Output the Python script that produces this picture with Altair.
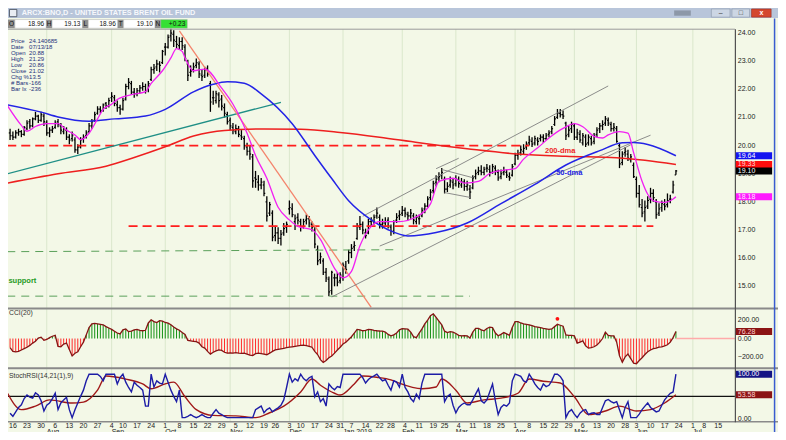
import altair as alt
import pandas as pd

W, H = 770, 424
SX, SY = W / 786, H / 440
def px(v): return round(v * SX, 2)
def py(v): return round(v * SY, 2)

FONT = "Liberation Sans"
BG = "#f3f8e7"
INK = "#000000"

# ---------------- trading calendar (x = trading-day number, 0 = 2018-07-16) ----------------
HOLIDAYS = ["2018-09-03", "2018-11-22", "2018-12-05", "2018-12-25", "2019-01-01",
            "2019-01-21", "2019-02-18", "2019-04-19", "2019-05-27", "2019-07-04"]
cal = pd.bdate_range("2018-07-12", "2019-07-23")
cal = cal[~cal.isin(pd.to_datetime(HOLIDAYS))]
POS0 = list(cal).index(pd.Timestamp("2018-07-16"))
cal_df = pd.DataFrame({"d": cal, "i": [k - POS0 for k in range(len(cal))]})
weeks = cal_df.groupby(cal_df["d"].dt.to_period("W")).first()
weeks = weeks[(weeks["i"] >= 0) & (weeks["i"] <= 252)]
week_df = pd.DataFrame({"i": weeks["i"].values, "t": [str(d.day) for d in weeks["d"]]})
months = cal_df.groupby(cal_df["d"].dt.to_period("M")).first()
months = months[months["i"] >= 0]
month_df = pd.DataFrame({"i": months["i"].values,
                         "t": [d.strftime("%b") + (" 2019" if d.month == 1 else "") for d in months["d"]]})

# ---------------- daily OHLC, trading days -1 (2018-07-13) .. 235 (2019-06-21) ----------------
BAR_I = list(range(-1, 236))
OPEN = [20.45,20.35,20.3,20.45,20.5,20.4,20.6,20.85,20.7,20.95,
        21.05,20.9,21.05,20.8,20.45,20.55,20.65,20.85,20.7,20.5,
        20.55,20.3,20.25,20.2,19.85,19.95,20.25,20.35,20.5,20.7,
        20.9,21.15,21.3,21.25,21.5,21.4,21.7,21.7,21.45,21.35,
        21.3,21.65,22.1,22.2,21.9,21.85,21.95,22.05,22.1,22.0,
        22.35,22.7,22.8,22.9,22.95,23.5,23.5,23.9,23.95,23.7,
        23.55,23.7,23.5,22.9,22.6,22.7,22.85,22.9,22.5,22.5,
        22.75,22.2,21.7,21.6,21.8,21.65,21.35,21.1,20.9,20.65,
        20.5,20.6,20.35,20.25,19.95,19.8,19.6,18.85,18.7,18.6,
        18.6,18.0,17.6,17.6,16.8,16.9,16.7,16.9,17.1,17.75,
        17.75,17.3,17.45,17.3,17.1,17.35,17.4,17.2,17.0,16.3,
        15.95,15.9,15.5,15.25,14.85,15.3,15.3,15.2,15.3,15.7,
        15.9,16.2,16.4,16.7,17.1,17.2,16.9,16.9,17.3,17.3,
        17.5,17.45,17.2,17.25,17.35,17.1,16.95,17.35,17.5,17.6,
        17.7,17.55,17.5,17.5,17.3,17.4,17.5,17.75,17.85,18.15,
        18.4,18.7,18.85,18.95,18.8,18.45,18.6,18.7,18.65,18.8,
        18.6,18.7,18.55,18.45,18.5,18.9,19.05,19.1,19.05,19.2,
        19.15,19.05,19.2,19.05,18.9,19.05,19.05,18.9,18.95,19.35,
        19.65,19.75,19.8,19.95,20.1,20.15,20.1,20.2,20.25,20.3,
        20.25,20.4,20.5,20.75,21.0,21.15,21.1,20.8,20.4,20.6,
        20.7,20.3,20.4,20.1,20.3,20.1,20.25,20.15,20.4,20.6,
        20.7,20.8,20.9,20.75,20.6,20.6,20.0,19.4,19.75,19.7,
        19.5,19.3,18.8,18.3,17.8,17.65,17.85,18.1,18.3,18.0,
        17.6,17.8,17.9,17.9,18.1,18.35,18.96]
HIGH = [20.6,20.5,20.55,20.6,20.55,20.7,20.9,20.95,21.0,21.2,
        21.1,21.2,21.15,20.9,20.65,20.7,20.9,20.95,20.8,20.7,
        20.65,20.4,20.5,20.3,20.05,20.3,20.4,20.55,20.8,20.95,
        21.2,21.4,21.4,21.5,21.55,21.7,21.9,21.8,21.6,21.45,
        21.7,22.2,22.4,22.3,22.05,22.05,22.15,22.25,22.2,22.3,
        22.8,22.9,23.05,23.0,23.4,23.65,23.95,24.15,24.1,23.9,
        23.85,23.85,23.6,23.05,22.85,22.95,23.1,23.0,22.7,22.8,
        22.85,22.3,21.95,21.95,21.9,21.8,21.5,21.2,21.0,20.8,
        20.75,20.7,20.55,20.35,20.1,20.0,19.7,19.1,18.95,18.85,
        18.75,18.2,18.0,17.7,17.15,17.1,17.0,17.25,17.3,18.05,
        17.95,17.55,17.6,17.4,17.4,17.55,17.5,17.3,17.1,16.45,
        16.2,16.0,15.65,15.35,15.55,15.45,15.5,15.5,15.85,15.9,
        16.3,16.5,16.6,17.25,17.5,17.3,17.05,17.4,17.45,17.55,
        17.8,17.55,17.4,17.45,17.45,17.2,17.35,17.6,17.7,17.85,
        17.8,17.65,17.75,17.6,17.55,17.55,17.8,17.95,18.2,18.45,
        18.75,18.95,19.05,19.2,18.9,18.7,18.9,18.85,18.95,18.9,
        18.85,18.8,18.75,18.6,18.95,19.15,19.25,19.3,19.25,19.35,
        19.3,19.35,19.3,19.15,19.15,19.25,19.15,19.05,19.35,19.75,
        19.85,20.0,20.05,20.15,20.35,20.3,20.35,20.3,20.4,20.4,
        20.45,20.55,20.7,21.05,21.3,21.3,21.25,20.85,20.7,20.85,
        20.8,20.6,20.55,20.45,20.4,20.4,20.35,20.45,20.65,20.8,
        20.9,21.05,21.0,20.85,20.8,20.7,20.1,19.8,19.95,19.85,
        19.7,19.4,18.9,18.6,18.1,18.05,18.2,18.5,18.45,18.1,
        17.95,18.05,18.1,18.3,18.25,18.75,19.13]
LOW = [20.2,20.2,20.25,20.35,20.3,20.35,20.55,20.6,20.65,20.9,
       20.8,20.85,20.7,20.35,20.3,20.45,20.6,20.65,20.4,20.4,
       20.2,20.05,20.15,19.75,19.7,19.9,20.1,20.25,20.45,20.6,
       20.85,21.1,21.15,21.2,21.3,21.35,21.55,21.4,21.2,21.1,
       21.25,21.6,22.0,21.8,21.7,21.75,21.85,21.95,21.85,21.9,
       22.3,22.55,22.65,22.6,22.9,23.2,23.45,23.7,23.5,23.45,
       23.4,23.4,23.0,22.3,22.45,22.6,22.75,22.4,22.3,22.4,
       22.45,21.2,21.45,21.5,21.35,21.25,21.0,20.75,20.55,20.4,
       20.4,20.3,20.2,19.85,19.65,19.5,18.5,18.5,18.4,18.45,
       18.2,17.3,17.5,16.6,16.6,16.5,16.45,16.8,16.9,17.55,
       17.45,17.0,17.2,16.95,17.05,17.2,17.1,16.95,16.35,15.75,
       15.8,15.4,15.15,14.65,14.7,15.0,15.0,15.1,15.2,15.45,
       15.8,16.0,16.25,16.65,17.0,16.85,16.7,16.85,17.15,17.2,
       17.4,17.05,17.05,17.15,17.05,16.8,16.85,17.25,17.35,17.5,
       17.45,17.35,17.4,17.2,17.2,17.2,17.45,17.6,17.8,18.05,
       18.3,18.55,18.7,18.8,18.3,18.35,18.5,18.45,18.55,18.5,
       18.5,18.4,18.4,18.1,18.45,18.8,18.95,18.95,18.95,19.05,
       18.9,19.0,18.95,18.75,18.8,18.95,18.85,18.75,18.9,19.3,
       19.5,19.65,19.7,19.85,20.0,19.95,20.0,20.0,20.15,20.1,
       20.2,20.3,20.4,20.7,20.95,21.0,20.95,20.2,20.3,20.45,
       20.2,20.2,20.1,20.0,19.95,20.0,20.0,20.05,20.3,20.45,
       20.55,20.7,20.7,20.5,20.5,20.1,19.2,19.3,19.6,19.45,
       19.4,18.85,18.15,17.8,17.45,17.3,17.75,17.95,18.0,17.4,
       17.5,17.65,17.7,17.8,17.95,18.3,18.96]
CLOSE = [20.35,20.3,20.45,20.5,20.4,20.65,20.8,20.7,20.95,21.05,
         20.9,21.1,20.85,20.45,20.55,20.6,20.8,20.75,20.55,20.6,
         20.3,20.2,20.35,19.85,19.95,20.2,20.3,20.45,20.7,20.85,
         21.1,21.3,21.25,21.45,21.4,21.6,21.75,21.5,21.35,21.3,
         21.6,22.1,22.25,21.9,21.85,21.95,22.05,22.1,21.95,22.2,
         22.7,22.75,22.9,22.85,23.35,23.5,23.85,24.0,23.75,23.6,
         23.7,23.55,23.1,22.5,22.65,22.8,22.95,22.55,22.45,22.7,
         22.55,21.55,21.7,21.85,21.6,21.4,21.15,20.85,20.7,20.55,
         20.6,20.4,20.3,20.0,19.8,19.7,18.75,18.8,18.6,18.7,
         18.3,17.5,17.9,16.75,16.9,16.7,16.85,17.05,17.2,17.8,
         17.55,17.4,17.35,17.1,17.3,17.4,17.25,17.1,16.5,15.9,
         16.05,15.5,15.3,14.8,15.5,15.3,15.15,15.4,15.75,15.6,
         16.2,16.35,16.45,17.15,17.2,17.0,16.8,17.3,17.35,17.45,
         17.6,17.2,17.25,17.3,17.15,16.95,17.3,17.45,17.55,17.7,
         17.6,17.5,17.6,17.35,17.45,17.4,17.7,17.85,18.1,18.35,
         18.65,18.8,18.9,19.05,18.45,18.55,18.75,18.6,18.8,18.65,
         18.7,18.55,18.6,18.35,18.85,19.0,19.1,19.05,19.15,19.2,
         19.05,19.25,19.1,18.85,19.0,19.1,18.95,18.85,19.25,19.65,
         19.7,19.85,19.9,20.05,20.2,20.05,20.25,20.15,20.3,20.25,
         20.35,20.45,20.6,20.95,21.15,21.1,21.05,20.35,20.55,20.75,
         20.3,20.45,20.2,20.35,20.05,20.3,20.1,20.35,20.55,20.7,
         20.75,20.95,20.8,20.6,20.65,20.15,19.35,19.7,19.8,19.55,
         19.6,18.9,18.3,17.9,17.6,17.8,18.05,18.3,18.15,17.55,
         17.75,17.95,17.85,18.05,18.1,18.6,19.10]

# ---------------- CCI(20) per day ----------------
CCI = [-100,-140,-145,-140,-125,-110,-95,-75,-50,-30,
       5,15,-20,-10,10,25,35,-85,-90,-60,
       -50,-120,-190,-160,-145,-90,-40,40,120,160,
       165,160,155,150,130,115,100,80,60,50,
       95,105,75,80,95,100,90,85,90,170,
       205,185,175,195,190,175,168,150,125,105,
       90,65,45,-20,-25,-30,-35,-50,-90,-105,
       -140,-170,-150,-135,-125,-130,-150,-160,-158,-160,
       -155,-160,-162,-160,-170,-182,-185,-165,-160,-165,
       -170,-177,-160,-140,-125,-118,-112,-108,-100,-95,
       -90,-85,-80,-75,-73,-78,-85,-95,-140,-175,
       -230,-262,-240,-210,-190,-160,-125,-95,-60,-40,
       -10,20,60,100,95,85,90,100,98,90,
       85,82,80,70,45,30,40,60,95,108,
       105,102,70,20,10,60,105,160,200,250,
       270,230,190,150,80,65,75,70,55,35,
       30,32,30,5,70,110,110,95,85,110,
       125,120,60,30,45,65,50,35,120,185,
       185,170,160,155,150,140,130,125,118,110,
       105,100,105,130,155,145,135,40,35,35,
       30,-50,-40,-25,-80,-105,-100,-90,-70,-40,
       0,70,35,30,30,-40,-190,-260,-200,-170,
       -220,-270,-275,-240,-210,-175,-145,-125,-110,-105,
       -95,-90,-80,-68,-40,10,76.28]

# ---------------- StochRSI per day and its signal line ----------------
STOCH = [12,5,15,25,31,45,53,48,46,58,
         53,40,17,30,35,45,57,20,35,42,
         48,20,2,20,35,50,64,85,100,100,
         100,100,95,85,100,100,100,100,78,93,
         100,82,70,60,82,75,70,64,28,28,
         100,71,85,80,78,100,82,64,50,38,
         64,2,2,5,9,5,2,5,9,5,
         2,2,12,20,12,9,5,2,2,2,
         2,2,2,2,2,2,2,20,24,28,
         13,20,24,15,20,24,30,42,70,100,
         82,90,85,100,90,85,92,95,49,60,
         38,45,28,78,70,65,72,70,100,100,
         100,100,100,100,100,92,80,88,93,96,
         100,92,85,88,75,64,85,82,71,100,
         70,60,45,38,55,45,80,100,100,100,
         100,100,100,100,38,50,55,30,13,25,
         31,35,31,31,42,55,67,40,35,42,
         60,78,40,9,25,31,28,35,85,100,
         98,95,85,82,100,90,78,70,64,78,
         72,75,85,100,100,95,85,2,15,20,
         10,2,12,18,20,9,12,13,9,9,
         25,40,43,38,35,38,20,2,25,38,
         2,2,2,10,20,28,35,25,20,15,
         17,30,42,50,57,60,100]
SIG_I = [-2,3,8,13,21,25,30,33,40,46,49,54,57,61,65,71,79,86,91,96,
         102,106,109,114,116,121,124,129,134,136,145,150,152,157,161,167,173,179,183,188,
         194,199,204,210,215,221,226,231,235]
SIG_V = [58,20,28,42,35,37,64,96,89,78,67,78,82,49,20,7,6,2,13,28,
         60,89,75,57,53,78,96,93,87,82,67,71,89,64,35,42,46,57,89,84,
         80,49,9,17,28,17,20,35,53.58]

# ---------------- moving averages (read at sample days) ----------------
MA10_I = [-2,3,5,8,12,16,19,22,24,27,30,32,35,37,42,47,49,53,56,58,
          60,61,64,68,74,78,83,86,90,94,98,101,106,109,114,117,120,123,127,130,
          137,143,148,151,156,160,165,169,174,178,181,186,190,195,199,202,206,209,211,215,
          218,220,223,225,227,231,234,235]
MA10_V = [21.43,20.72,20.51,20.68,20.78,20.78,20.55,20.38,20.21,20.44,20.95,21.29,21.47,21.64,21.81,21.92,22.21,22.66,23.12,23.45,
          23.35,23.12,22.66,22.72,22.04,21.47,20.44,19.65,18.84,17.81,17.36,17.13,17.01,16.67,15.64,15.30,15.53,16.44,17.13,17.30,
          17.30,17.47,17.93,18.73,18.84,18.67,18.73,19.01,19.13,19.18,19.52,19.92,20.27,20.61,20.78,20.67,20.33,20.27,20.38,20.50,
          20.44,19.75,18.73,18.27,18.04,17.98,18.10,18.18]
MA50_I = [-2,10,16,27,36,47,54,64,71,76,82,88,99,107,113,119,127,133,140,150,
          161,173,185,196,208,216,220,225,235]
MA50_V = [21.45,21.19,21.02,20.87,20.95,21.05,21.29,21.91,22.18,22.27,22.22,21.84,20.78,19.65,18.83,18.04,17.36,17.01,16.79,16.91,
          17.25,17.94,18.62,19.31,19.82,20.10,20.11,20.04,19.64]
MA200_I = [-2,16,33,43,54,64,75,89,102,116,130,144,161,179,196,214,224,235]
MA200_V = [18.67,19.0,19.27,19.58,19.96,20.34,20.54,20.59,20.58,20.47,20.30,20.10,19.89,19.70,19.62,19.57,19.48,19.33]

PRICE_TICKS = [15, 16, 17, 18, 19, 20, 21, 22, 23, 24]

# ---------------- scales ----------------
XSC = alt.Scale(domain=[-5 / 2.88, 737 / 2.88], range=[0, px(742)], zero=False, nice=False)
PSC = alt.Scale(domain=[24 - 285 / 29.2, 24 + 4 / 29.2], range=[py(311), py(22)], zero=False, nice=False)
CSC = alt.Scale(domain=[-30 / 0.095, 31 / 0.095], range=[py(373), py(312)], zero=False, nice=False)
SSC = alt.Scale(domain=[-3 / 0.46, 52 / 0.46], range=[py(429), py(374)], zero=False, nice=False)

def X(f): return alt.X(f"{f}:Q", scale=XSC, axis=None)
def Yp(f): return alt.Y(f"{f}:Q", scale=PSC, axis=None)
def Yc(f): return alt.Y(f"{f}:Q", scale=CSC, axis=None)
def Ys(f): return alt.Y(f"{f}:Q", scale=SSC, axis=None)

ONE = pd.DataFrame({"k": [0]})

def box(x0, y0, x1, y1, fill, stroke=None, sw=1):
    kw = dict(color=fill)
    if stroke:
        kw.update(stroke=stroke, strokeWidth=sw)
    return alt.Chart(ONE).mark_rect(**kw).encode(
        x=alt.value(px(x0)), x2=alt.value(px(x1)), y=alt.value(py(y0)), y2=alt.value(py(y1)))

def hline(x0, x1, y, color, width):
    return alt.Chart(ONE).mark_rule(color=color, strokeWidth=width).encode(
        x=alt.value(px(x0)), x2=alt.value(px(x1)), y=alt.value(py(y)))

def vline(x, y0, y1, color, width):
    return alt.Chart(ONE).mark_rule(color=color, strokeWidth=width).encode(
        x=alt.value(px(x)), y=alt.value(py(y0)), y2=alt.value(py(y1)))

def label(t, x, y, size=7, color="#000", align="left", weight="normal"):
    return alt.Chart(pd.DataFrame({"t": [t]})).mark_text(
        align=align, baseline="middle", fontSize=size, color=color, fontWeight=weight, font=FONT
    ).encode(x=alt.value(px(x)), y=alt.value(py(y)), text="t:N")

def series(ii, vv, color, width=1.0, dash=None, ysc=Yp, interp="linear"):
    df = pd.DataFrame({"i": ii, "v": vv})
    kw = dict(color=color, strokeWidth=width, interpolate=interp)
    if dash:
        kw["strokeDash"] = dash
    return alt.Chart(df).mark_line(**kw).encode(x=X("i"), y=ysc("v"))

def tags(vals, texts, bgs, fgs, ysc):
    df = pd.DataFrame({"v": vals, "t": texts, "bg": bgs, "fg": fgs})
    b = alt.Chart(df).mark_tick(orient="horizontal", thickness=7, opacity=1).encode(
        x=alt.value(px(761.5)), y=ysc("v"), size=alt.value(px(37)), color=alt.Color("bg:N", scale=None))
    t = alt.Chart(df).mark_text(align="left", baseline="middle", fontSize=7, font=FONT).encode(
        x=alt.value(px(745)), y=ysc("v"), text="t:N", color=alt.Color("fg:N", scale=None))
    return [b, t]

layers = []

# grid
layers.append(alt.Chart(month_df).mark_rule(color="#dae7cc", strokeWidth=1).encode(
    x=X("i"), y=alt.value(py(22)), y2=alt.value(py(429))))

# ---------------- price panel ----------------
bars = pd.DataFrame({"i": BAR_I, "o": OPEN, "h": HIGH, "l": LOW, "c": CLOSE})
layers.append(alt.Chart(bars).mark_rule(color=INK, strokeWidth=1.3).encode(x=X("i"), y=Yp("l"), y2="h:Q"))
layers.append(alt.Chart(bars).transform_calculate(a="datum.i - 0.45").mark_rule(color=INK, strokeWidth=1.2)
              .encode(x=X("a"), x2="i:Q", y=Yp("o")))
layers.append(alt.Chart(bars).transform_calculate(b="datum.i + 0.45").mark_rule(color=INK, strokeWidth=1.2)
              .encode(x=X("i"), x2="b:Q", y=Yp("c")))

# horizontal levels
red_lv = pd.DataFrame({"a": [-2, 41], "b": [183, 227], "p": [20.0, 17.14]})
layers.append(alt.Chart(red_lv).mark_rule(color="#ff1e1e", strokeWidth=1.6, strokeDash=[9, 5])
              .encode(x=X("a"), x2="b:Q", y=Yp("p")))
layers.append(series([-2, 136], [16.23, 16.30], "#5aa05a", 1.0, [8, 6]))
layers.append(series([-2, 162], [14.65, 14.65], "#5aa05a", 1.0, [8, 6]))

# trend lines
layers.append(series([-2, 95], [19.0, 21.54], "#1f8f86", 1.3))
layers.append(series([59, 127], [24.08, 14.25], "#f4846c", 1.3))
for ii, vv in [([124, 211], [17.49, 22.12]), ([130, 226], [16.43, 20.37]), ([113, 219], [14.62, 20.03]),
               ([150, 158], [19.18, 19.55]), ([152, 163], [19.15, 18.86]), ([153, 162], [18.33, 18.16])]:
    layers.append(series(ii, vv, "#808080", 0.9))

# moving averages
layers.append(series(MA200_I, MA200_V, "#ee1f1f", 1.5, interp="monotone"))
layers.append(series(MA50_I, MA50_V, "#2323e6", 1.5, interp="monotone"))
layers.append(series(MA10_I, MA10_V, "#f21ff2", 1.3, interp="monotone"))

# annotations
ann = pd.DataFrame({"i": [194, 197.2], "p": [19.82, 19.03], "t": ["200-dma", "50-dma"], "c": ["#ee1f1f", "#2323e6"]})
layers.append(alt.Chart(ann).mark_text(fontSize=7.5, fontWeight="bold", font=FONT, baseline="middle")
              .encode(x=X("i"), y=Yp("p"), text="t:N", color=alt.Color("c:N", scale=None)))
sup = pd.DataFrame({"i": [-1.6], "p": [15.2], "t": ["support"]})
layers.append(alt.Chart(sup).mark_text(fontSize=7.5, fontWeight="bold", font=FONT, align="left",
                                       baseline="middle", color="#1f9a1f")
              .encode(x=X("i"), y=Yp("p"), text="t:N"))

# ---------------- CCI panel ----------------
cci_df = pd.DataFrame({"i": BAR_I, "v": CCI})
layers.append(alt.Chart(cci_df).transform_calculate(z="0", s="datum.v >= 0 ? 'p' : 'n'")
              .mark_rule(strokeWidth=1)
              .encode(x=X("i"), y=Yc("z"), y2="v:Q",
                      color=alt.Color("s:N", scale=alt.Scale(domain=["p", "n"], range=["#139013", "#ff2a2a"]),
                                      legend=None)))
layers.append(alt.Chart(cci_df).mark_line(color="#861414", strokeWidth=1.3).encode(x=X("i"), y=Yc("v")))
layers.append(alt.Chart(pd.DataFrame({"a": [235], "v": [0]})).mark_rule(color="#ffaaaa", strokeWidth=1.5)
              .encode(x=X("a"), x2=alt.value(px(742)), y=Yc("v")))
layers.append(alt.Chart(pd.DataFrame({"i": [193], "v": [215]})).mark_point(
    shape="circle", filled=True, size=14, color="#ff1010", opacity=1).encode(x=X("i"), y=Yc("v")))

# ---------------- StochRSI panel ----------------
layers.append(alt.Chart(pd.DataFrame({"v": [50]})).mark_rule(color="#111", strokeWidth=1.2)
              .encode(x=alt.value(0), x2=alt.value(px(742)), y=Ys("v")))
layers.append(series(SIG_I, SIG_V, "#a01818", 1.4, ysc=Ys, interp="monotone"))
layers.append(series(BAR_I, STOCH, "#1c1ca6", 1.4, ysc=Ys))

# ---------------- frames ----------------
layers.append(hline(0, 742, 22, "#9a9a9a", 1))
layers.append(hline(0, 786, 311.8, "#8a8a8a", 2))
layers.append(hline(0, 786, 373.8, "#8a8a8a", 2))
layers.append(hline(0, 786, 429.3, "#8a8a8a", 1.5))
layers.append(vline(742.5, 22, 430, "#505050", 1.2))
layers.append(vline(782.5, 11, 440, "#3a5bd0", 1.5))

# ---------------- right-hand scales ----------------
plab = pd.DataFrame({"v": PRICE_TICKS})
layers.append(alt.Chart(plab).transform_calculate(t="format(datum.v, '.2f')")
              .mark_text(align="left", baseline="middle", fontSize=7, font=FONT, color="#222")
              .encode(x=alt.value(px(745)), y=Yp("v"), text="t:N"))
layers += tags([19.64, 19.33, 19.10, 18.18], ["19.64", "19.33", "19.10", "18.18"],
               ["#1414f0", "#ff0d0d", "#000000", "#ff1aff"], ["#ffffff", "#ffd6d6", "#ffffff", "#ffe0ff"], Yp)
clab = pd.DataFrame({"v": [200, 0, -200]})
layers.append(alt.Chart(clab).transform_calculate(t="format(datum.v, '.2f')")
              .mark_text(align="left", baseline="middle", fontSize=7, font=FONT, color="#222")
              .encode(x=alt.value(px(745)), y=Yc("v"), text="t:N"))
layers += tags([76.28], ["76.28"], ["#8b1414"], ["#ffd0d0"], Yc)
layers.append(alt.Chart(pd.DataFrame({"v": [0]})).transform_calculate(t="format(datum.v, '.2f')")
              .mark_text(align="left", baseline="middle", fontSize=7, font=FONT, color="#222")
              .encode(x=alt.value(px(745)), y=Ys("v"), text="t:N"))
layers += tags([100, 53.58], ["100.00", "53.58"], ["#141485", "#8b1414"], ["#ffffff", "#ffd0d0"], Ys)

# ---------------- bottom date scale ----------------
layers.append(alt.Chart(week_df).mark_text(baseline="middle", fontSize=7, font=FONT, color="#222")
              .encode(x=X("i"), y=alt.value(py(433.3)), text="t:N"))
layers.append(alt.Chart(month_df).mark_text(align="left", baseline="middle", fontSize=7, font=FONT, color="#222")
              .encode(x=X("i"), y=alt.value(py(439.5)), text="t:N"))

# ---------------- panel captions ----------------
layers.append(label("CCI(20)", 1, 316.5, 6.8, "#333"))
layers.append(label("StochRSI(14,21(1),9)", 1, 381.5, 6.8, "#333"))

# ---------------- info box ----------------
INFO_K = ["Price", "Date", "Open", "High", "Low", "Close", "Chg %", "# Bars", "Bar Ix"]
INFO_V = ["24.140685", "07/13/18", "20.88", "21.29", "20.86", "21.02", "13.5", "-166", "-236"]
for k, (a, b) in enumerate(zip(INFO_K, INFO_V)):
    yy = 34 + 6.2 * k
    layers.append(label(a, 3, yy, 6, "#24307a"))
    layers.append(label(b, 21.5, yy, 6, "#24307a"))

# ---------------- title bar & quote strip ----------------
layers.append(box(0, 0, 786, 10.5, "#b8c5da"))
layers.append(box(1.5, 1.5, 9, 9, "#e9edf3", "#3d4656", 0.8))
layers.append(label("ARCX:BNO,D - UNITED STATES BRENT OIL FUND", 14, 5.5, 7.3, "#f6f8fc", weight="bold"))
layers.append(box(680, 2.5, 697, 8, "#8d98a8"))
layers.append(box(718, 1, 737, 9.5, "#ccd6e4", "#8b97aa", 0.6))
layers.append(box(739, 1, 757, 9.5, "#ccd6e4", "#8b97aa", 0.6))
layers.append(box(759, 1, 779, 9.5, "#d4472f", "#9b2a1c", 0.6))
layers.append(label("–", 727.5, 5.5, 7, "#333", "center"))
layers.append(label("□", 748, 5.5, 7, "#333", "center"))
layers.append(label("x", 769, 5.2, 7, "#ffffff", "center", "bold"))

STRIP = [("O", 0, 7, "18.96", 39, "#ffffff"), ("H", 39, 45, "19.13", 76, "#ffffff"),
         ("L", 76, 82, "18.96", 112, "#ffffff"), ("T", 112, 118, "19.10", 150, "#ffffff"),
         ("N", 150, 156, "+0.23", 183, "#35e035")]
for letter, a, b, val, c, fill in STRIP:
    layers.append(box(a, 12, b, 21, "#8f8f8f"))
    layers.append(box(b, 12, c, 21, fill, "#b0b0b0", 0.5))
    layers.append(label(letter, (a + b) / 2, 16.7, 6.5, "#111", "center"))
    layers.append(label(val, c - 2, 16.7, 6.5, "#111", "right"))

chart = (
    alt.layer(*layers)
    .resolve_scale(y="independent")
    .properties(width=W, height=H, autosize=alt.AutoSizeParams(type="none"), padding=0, background=BG)
    .configure_view(stroke=None)
)
chart.save("out.html", embed_options={"renderer": "svg", "actions": False})
